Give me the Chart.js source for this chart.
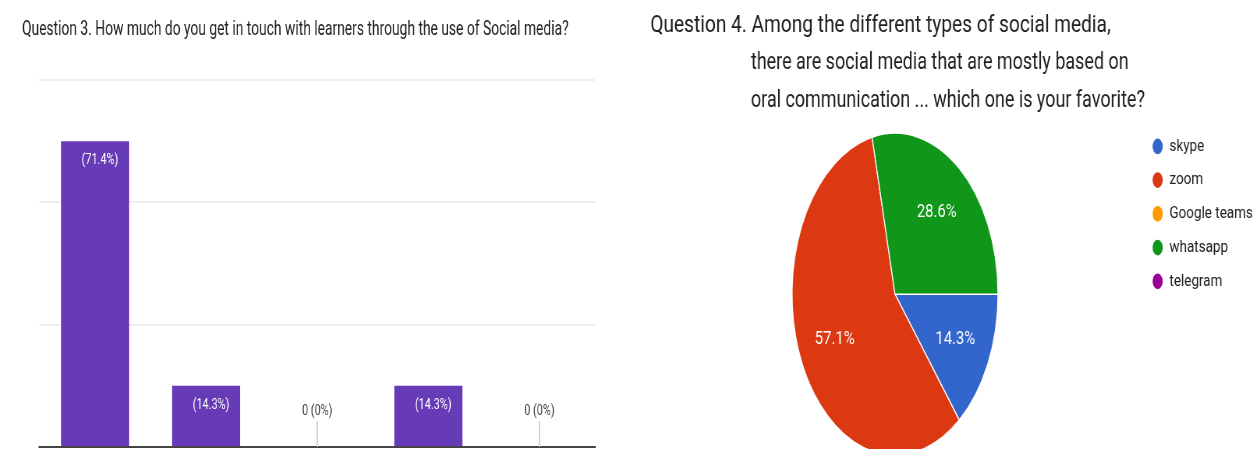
<!DOCTYPE html>
<html>
<head>
<meta charset="utf-8">
<script src="https://cdn.jsdelivr.net/npm/chart.js@4.4.1/dist/chart.umd.min.js"></script>
<style>
  html, body { margin: 0; padding: 0; background: #fff; overflow: hidden; }
  body { width: 1256px; height: 449px; position: relative; }
  .panel { position: absolute; top: 0; transform-origin: 0 0; }
  #left { left: 0; transform: scaleX(0.70); }
  #right { left: 640px; transform: scaleX(0.78); }
</style>
</head>
<body>
<div class="panel" id="left"><canvas id="barChart" width="914" height="449"></canvas></div>
<div class="panel" id="right"><canvas id="pieChart" width="803" height="467"></canvas></div>
<script>
// Question 3 - answers per option (7 responses)
var q3Categories = ['Option 1', 'Option 2', 'Option 3', 'Option 4', 'Option 5'];
var q3Counts = [5, 1, 0, 1, 0];
var q3Ticks = [0, 2, 4, 6];

// Question 4 - favourite app
var q4Apps = ['skype', 'zoom', 'Google teams', 'whatsapp', 'telegram'];
var q4Counts = [1, 4, 0, 2, 0];
var q4Colors = ['#3366cc', '#dc3912', '#ff9900', '#109618', '#990099'];

function sum(arr) {
  return arr.reduce(function (a, b) { return a + b; }, 0);
}

// percentage labels on the bars, small leader line for empty options
var barLabels = {
  id: 'barLabels',
  afterDatasetsDraw: function (chart) {
    var ctx = chart.ctx;
    var total = sum(q3Counts);
    var base = chart.scales.y.getPixelForValue(0);
    chart.getDatasetMeta(0).data.forEach(function (bar, i) {
      var n = q3Counts[i];
      var pct = Math.round(n / total * 1000) / 10;
      ctx.save();
      ctx.font = '15.5px Roboto';
      ctx.textAlign = 'center';
      ctx.textBaseline = 'middle';
      if (n > 0) {
        ctx.fillStyle = '#ffffff';
        ctx.fillText('(' + pct + '%)', bar.x + 7, bar.y + 19);
      } else {
        ctx.strokeStyle = '#c8c8c8';
        ctx.lineWidth = 1.5;
        ctx.beginPath();
        ctx.moveTo(bar.x, base);
        ctx.lineTo(bar.x, base - 26);
        ctx.stroke();
        ctx.fillStyle = '#444444';
        ctx.fillText(n + ' (' + pct + '%)', bar.x, base - 36);
      }
      ctx.restore();
    });
  }
};

// squeezes the pie into an ellipse and writes the slice percentages
var pieShape = {
  id: 'pieShape',
  beforeDatasetsDraw: function (chart, args, opts) {
    var arc = chart.getDatasetMeta(0).data[0];
    var ctx = chart.ctx;
    ctx.save();
    ctx.translate(arc.x, arc.y);
    ctx.scale(opts.squeeze, 1);
    ctx.translate(-arc.x, -arc.y);
  },
  afterDatasetsDraw: function (chart, args, opts) {
    var ctx = chart.ctx;
    ctx.restore();
    var total = sum(q4Counts);
    chart.getDatasetMeta(0).data.forEach(function (arc, i) {
      var n = q4Counts[i];
      if (!n) return;
      var p = arc.getProps(['x', 'y', 'startAngle', 'endAngle', 'outerRadius'], true);
      var mid = (p.startAngle + p.endAngle) / 2;
      var r = p.outerRadius * 0.65;
      ctx.save();
      ctx.fillStyle = '#ffffff';
      ctx.font = '19px Roboto';
      ctx.textAlign = 'center';
      ctx.textBaseline = 'middle';
      ctx.fillText((n / total * 100).toFixed(1) + '%', p.x + Math.cos(mid) * r * opts.squeeze, p.y + Math.sin(mid) * r);
      ctx.restore();
    });
  }
};

new Chart(document.getElementById('barChart'), {
  type: 'bar',
  data: {
    labels: q3Categories,
    datasets: [{
      data: q3Counts,
      backgroundColor: '#673ab7',
      barPercentage: 0.612,
      categoryPercentage: 1
    }]
  },
  options: {
    responsive: false,
    animation: false,
    layout: { padding: { left: 31.4, right: 64, top: 0, bottom: 2 } },
    plugins: {
      legend: { display: false },
      tooltip: { enabled: false },
      title: {
        display: true,
        text: 'Question 3. How much do you get in touch with learners through the use of Social media?',
        align: 'start',
        color: '#212121',
        font: { family: 'Roboto', size: 19.75, weight: 'normal', lineHeight: 1.2 },
        padding: { top: 18.15, bottom: 38.15 }
      }
    },
    scales: {
      x: {
        grid: { display: false },
        ticks: { display: false },
        border: { color: '#444444', width: 2 },
        afterFit: function (scale) { scale.height = 0; }
      },
      y: {
        min: q3Ticks[0],
        max: q3Ticks[q3Ticks.length - 1],
        ticks: { display: false, stepSize: q3Ticks[1] - q3Ticks[0] },
        grid: {
          drawTicks: false,
          lineWidth: 2,
          color: function (c) { return c.tick.value === 0 ? 'rgba(0,0,0,0)' : '#eeeeee'; }
        },
        border: { display: false },
        afterFit: function (scale) { scale.width = 25; }
      }
    }
  },
  plugins: [barLabels]
});

var indent = '\u2002'.repeat(11);

new Chart(document.getElementById('pieChart'), {
  type: 'pie',
  data: {
    labels: q4Apps,
    datasets: [{
      data: q4Counts,
      backgroundColor: q4Colors,
      borderColor: '#ffffff',
      borderWidth: 1.5
    }]
  },
  options: {
    responsive: false,
    animation: false,
    rotation: 90,
    radius: 161,
    layout: { padding: { left: 13.2, right: 7.3, top: 0, bottom: 0 } },
    plugins: {
      tooltip: { enabled: false },
      title: {
        display: true,
        align: 'start',
        text: 'Question 4. Among the different types of social media,',
        color: '#212121',
        font: { family: 'Roboto', size: 24.5, weight: 'normal', lineHeight: 38 / 24.5 },
        padding: { top: 6.5, bottom: 0 }
      },
      subtitle: {
        display: true,
        align: 'start',
        text: [
          indent + 'there are social media that are mostly based on',
          indent + 'oral communication ... which one is your favorite?'
        ],
        color: '#212121',
        font: { family: 'Roboto', size: 23, weight: 'normal', lineHeight: 38 / 23 },
        padding: { top: 0, bottom: 0.75 }
      },
      legend: {
        position: 'right',
        align: 'start',
        fullSize: false,
        labels: {
          usePointStyle: true,
          pointStyle: 'circle',
          pointStyleWidth: 13,
          boxHeight: 11,
          padding: 16.5,
          color: '#212121',
          font: { family: 'Roboto', size: 17.25 },
          generateLabels: function (chart) {
            return Chart.overrides.pie.plugins.legend.labels.generateLabels(chart).map(function (item) {
              item.lineWidth = 0;
              return item;
            });
          }
        }
      },
      pieShape: { squeeze: 0.82 }
    }
  },
  plugins: [pieShape]
});
</script>
</body>
</html>
